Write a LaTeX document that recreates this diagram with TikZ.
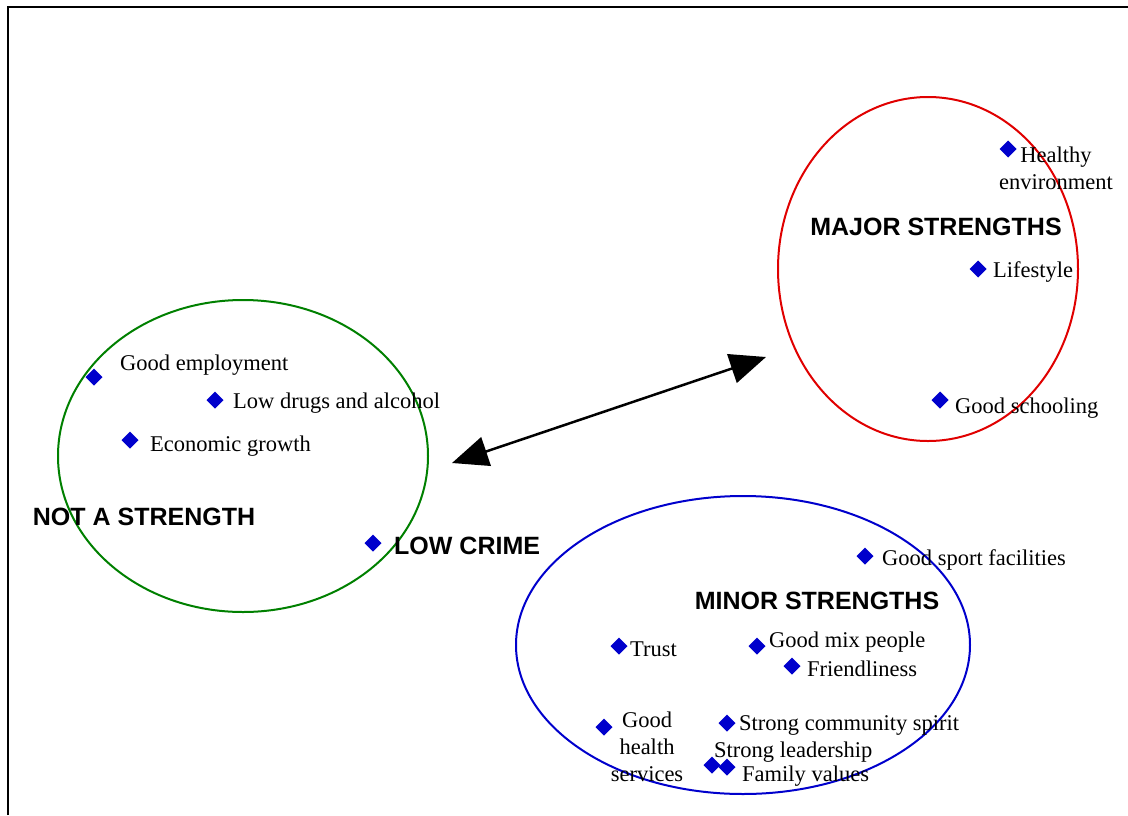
\documentclass[tikz,border=0pt]{standalone}
\usepackage{fontspec}
\setmainfont{Liberation Serif}
\newfontfamily\labfont{Liberation Sans}
\usetikzlibrary{arrows.meta}
\definecolor{dblue}{RGB}{0,0,204}
\definecolor{dgreen}{RGB}{0,128,0}
\definecolor{dred}{RGB}{224,0,0}
\begin{document}
\begin{tikzpicture}[x=1pt,y=-1pt,
  item/.style={anchor=west, inner sep=0pt, font=\fontsize{22.5}{27}\selectfont},
  citem/.style={align=center, inner sep=0pt, font=\fontsize{22.5}{27}\selectfont},
  grp/.style={inner sep=0pt, font=\labfont\bfseries\fontsize{25}{29}\selectfont},
  ring/.style={line width=2pt}]
\useasboundingbox (0,0) rectangle (1128,815);
\draw[line width=2.4pt] (8,815) -- (8,7) -- (1130,7);
% ellipses
\draw[ring, dgreen] (243,456) ellipse [x radius=185, y radius=156];
\draw[ring, dred] (928,269) ellipse [x radius=150, y radius=172];
\draw[ring, dblue] (743,645) ellipse [x radius=227, y radius=149];
% diamonds
\newcommand{\dia}[2]{\fill[dblue] (#1,#2) +(0,-8.5) -- +(8.5,0) -- +(0,8.5) -- +(-8.5,0) -- cycle;}
\dia{94}{377}\dia{215}{400}\dia{130}{440}\dia{373}{543}
\dia{1008}{149}\dia{978}{269}\dia{940}{400}
\dia{865}{556}\dia{619}{646}\dia{757}{646}\dia{792}{666}
\dia{604}{727}\dia{727}{723}\dia{712}{765}\dia{727}{767}
% labels
\node[item] (ge) at (120,365) {Good employment};
\node[item] (ld) at (233,403) {Low drugs and alcohol};
\node[item] (eg) at (150,446) {Economic growth};
\node[grp, anchor=west] (lc) at (394,546) {LOW CRIME};
\node[grp] (nas) at (144,517) {NOT A STRENGTH};
\node[citem] (he) at (1056,168) {Healthy\\environment};
\node[grp] (maj) at (936,227) {MAJOR STRENGTHS};
\node[item] (ls) at (993,272) {Lifestyle};
\node[item] (gs) at (955,408) {Good schooling};
\node[item] (gsf) at (882,560) {Good sport facilities};
\node[grp] (min) at (817,601) {MINOR STRENGTHS};
\node[item] (tr) at (630,649) {Trust};
\node[item] (gmp) at (769,642) {Good mix people};
\node[item] (fr) at (807,669) {Friendliness};
\node[citem] (ghs) at (647,747) {Good\\health\\services};
\node[item] (scs) at (739,725) {Strong community spirit};
\node[item] (sl) at (714,752) {Strong leadership};
\node[item] (fv) at (742,776) {Family values};
% arrow
\coordinate (a1) at (452,463);
\coordinate (a2) at (766,357);
\draw[line width=2.5pt, {Triangle[length=36pt,width=30pt]}-{Triangle[length=36pt,width=30pt]}] (a1) -- (a2);
\end{tikzpicture}
\end{document}
